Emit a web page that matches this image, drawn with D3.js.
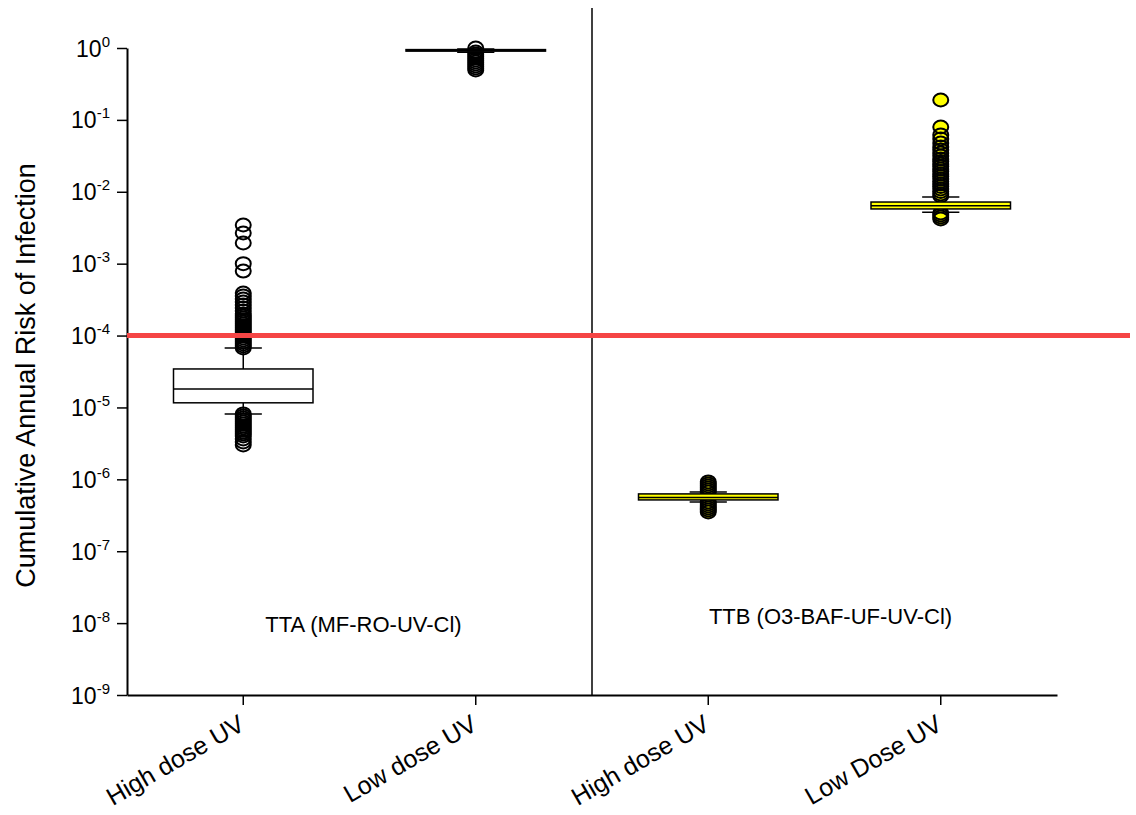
<!DOCTYPE html>
<html>
<head>
<meta charset="utf-8">
<script src="https://cdn.jsdelivr.net/npm/d3@7"></script>
<style>
  body { margin: 0; background: #fff; }
  svg { font-family: Arial, "Liberation Sans", sans-serif; }
</style>
</head>
<body>
<div id="chart"></div>
<script>
// Box plots of cumulative annual risk, log scale

const categories = ["High dose UV", "Low dose UV", "High dose UV ", "Low Dose UV"];
const groupLabels = ["TTA (MF-RO-UV-Cl)", "TTB (O3-BAF-UF-UV-Cl)"];
const yTicks = [1e0, 1e-1, 1e-2, 1e-3, 1e-4, 1e-5, 1e-6, 1e-7, 1e-8, 1e-9];
const threshold = 1e-4;

// [lower whisker, Q1, median, Q3, upper whisker]
const ttaHighStats = [8.1e-6, 1.16e-5, 1.81e-5, 3.43e-5, 6.7e-5];
const ttaLowStats = [0.87, 0.905, 0.925, 0.95, 0.97];
const ttbHighStats = [4.85e-7, 5.17e-7, 5.6e-7, 6.27e-7, 6.68e-7];
const ttbLowStats = [5.2e-3, 5.77e-3, 6.4e-3, 7.2e-3, 8.47e-3];

const ttaHighOutliers = [3.45e-3, 2.67e-3, 1.94e-3, 1.0e-3, 7.9e-4,
  3.91e-4, 3.555e-4, 3.228e-4, 2.933e-4, 2.665e-4, 2.42e-4, 2.198e-4, 1.997e-4,
  1.873e-4, 1.757e-4, 1.648e-4, 1.546e-4, 1.45e-4, 1.36e-4, 1.275e-4, 1.196e-4,
  1.122e-4, 1.052e-4, 9.87e-5, 9.26e-5, 8.68e-5, 8.15e-5, 7.64e-5, 7.17e-5, 6.72e-5,
  8.12e-6, 7.62e-6, 7.14e-6, 6.7e-6, 6.28e-6, 5.9e-6, 5.53e-6, 5.19e-6, 4.87e-6,
  4.56e-6, 4.28e-6, 4.01e-6, 3.65e-6, 3.31e-6, 3.01e-6];
const ttaLowOutliers = [1.0, 0.88, 0.825, 0.774, 0.726, 0.681, 0.639, 0.599, 0.562, 0.527, 0.494];
const ttbHighOutliers = [9.2e-7, 8.63e-7, 8.09e-7, 7.59e-7, 7.12e-7, 6.68e-7,
  4.85e-7, 4.55e-7, 4.27e-7, 4.0e-7, 3.75e-7, 3.52e-7];
const ttbLowOutliers = [0.189, 0.0796, 0.0617, 0.0543, 0.0477, 0.042, 0.0382, 0.0346,
  0.0315, 0.02858, 0.02638, 0.02435, 0.02247, 0.02075, 0.01915, 0.01768, 0.01632,
  0.01507, 0.01391, 0.01284, 0.01185, 0.01094, 0.0101, 0.00932, 0.00874,
  0.00507, 0.00476, 0.00446, 0.00418];

const boxes = [
  { cat: categories[0], stats: ttaHighStats, outliers: ttaHighOutliers, fill: "#ffffff", dotFill: "none" },
  { cat: categories[1], stats: ttaLowStats, outliers: ttaLowOutliers, fill: "#ffffff", dotFill: "none" },
  { cat: categories[2], stats: ttbHighStats, outliers: ttbHighOutliers, fill: "#ffff00", dotFill: "#ffff00" },
  { cat: categories[3], stats: ttbLowStats, outliers: ttbLowOutliers, fill: "#ffff00", dotFill: "#ffff00" }
];

const width = 1136;
const height = 815;
const margin = { top: 48, right: 79, bottom: 120, left: 127 };

const svg = d3.select("#chart")
  .append("svg")
  .attr("width", width)
  .attr("height", height);

const x = d3.scaleBand()
  .domain(categories)
  .range([margin.left, width - margin.right]);

const y = d3.scaleLog()
  .domain([1e-9, 1])
  .range([height - margin.bottom, margin.top]);

const y0 = y(1e-9);

// Axes
const xAxis = svg.append("g")
  .attr("transform", `translate(0,${y0})`)
  .call(d3.axisBottom(x).tickSize(10).tickSizeOuter(0).tickFormat(""));

xAxis.select(".domain").attr("stroke-width", 2);
xAxis.selectAll(".tick line").attr("stroke-width", 1.5);

xAxis.selectAll(".tick")
  .append("text")
  .attr("fill", "#000")
  .attr("text-anchor", "end")
  .attr("transform", "translate(3,34) rotate(-30)")
  .style("font-size", "25px")
  .text(d => d.trim());

const yAxis = svg.append("g")
  .attr("transform", `translate(${margin.left},0)`)
  .call(d3.axisLeft(y).tickValues(yTicks).tickSize(10).tickSizeOuter(0).tickFormat(""));

yAxis.select(".domain").attr("stroke-width", 2);
yAxis.selectAll(".tick line").attr("stroke-width", 1.5);

const yLabel = yAxis.selectAll(".tick")
  .append("text")
  .attr("fill", "#000")
  .attr("text-anchor", "end")
  .attr("x", -17)
  .attr("y", 8);

yLabel.append("tspan")
  .style("font-size", "23px")
  .text("10");
yLabel.append("tspan")
  .attr("dy", -10)
  .style("font-size", "15px")
  .text(d => String(Math.round(Math.log10(d))));

// Divider between the two treatment trains
const midX = x.range()[0] + (x.range()[1] - x.range()[0]) / 2;
svg.append("line")
  .attr("x1", midX)
  .attr("x2", midX)
  .attr("y1", 8)
  .attr("y2", y0)
  .attr("stroke", "#000")
  .attr("stroke-width", 1.5);

// Boxes
const bw = x.bandwidth() * 0.6;
const capW = x.bandwidth() * 0.16;

boxes.forEach(b => {
  const cx = x(b.cat) + x.bandwidth() / 2;
  const [lo, q1, med, q3, hi] = b.stats;
  const g = svg.append("g");

  g.append("line")
    .attr("x1", cx).attr("x2", cx)
    .attr("y1", y(hi)).attr("y2", y(q3))
    .attr("stroke", "#000").attr("stroke-width", 1.5);
  g.append("line")
    .attr("x1", cx).attr("x2", cx)
    .attr("y1", y(q1)).attr("y2", y(lo))
    .attr("stroke", "#000").attr("stroke-width", 1.5);

  [lo, hi].forEach(v => {
    g.append("line")
      .attr("x1", cx - capW / 2).attr("x2", cx + capW / 2)
      .attr("y1", y(v)).attr("y2", y(v))
      .attr("stroke", "#000").attr("stroke-width", 1.5);
  });

  // outlier fills first, then outlines on top so dense runs go dark
  g.selectAll("ellipse.fill")
    .data(b.outliers)
    .enter()
    .append("ellipse")
    .attr("class", "fill")
    .attr("cx", cx)
    .attr("cy", d => y(d))
    .attr("rx", 7.5)
    .attr("ry", 6.5)
    .attr("fill", b.dotFill)
    .attr("stroke", "none");

  g.selectAll("ellipse.outline")
    .data(b.outliers)
    .enter()
    .append("ellipse")
    .attr("class", "outline")
    .attr("cx", cx)
    .attr("cy", d => y(d))
    .attr("rx", 7.5)
    .attr("ry", 6.5)
    .attr("fill", "none")
    .attr("stroke", "#000")
    .attr("stroke-width", 2);

  g.append("rect")
    .attr("x", cx - bw / 2)
    .attr("width", bw)
    .attr("y", y(q3))
    .attr("height", y(q1) - y(q3))
    .attr("fill", b.fill)
    .attr("stroke", "#000")
    .attr("stroke-width", 1.5);

  g.append("line")
    .attr("x1", cx - bw / 2).attr("x2", cx + bw / 2)
    .attr("y1", y(med)).attr("y2", y(med))
    .attr("stroke", "#000").attr("stroke-width", 1.5);
});

// Threshold line
svg.append("line")
  .attr("x1", margin.left)
  .attr("x2", 1130)
  .attr("y1", y(threshold))
  .attr("y2", y(threshold))
  .attr("stroke", "#f54545")
  .attr("stroke-width", 5);

// Group labels
svg.append("text")
  .attr("x", (x(categories[0]) + x(categories[1])) / 2 + x.bandwidth() / 2 + 4)
  .attr("y", 632)
  .attr("text-anchor", "middle")
  .style("font-size", "22px")
  .text(groupLabels[0]);

svg.append("text")
  .attr("x", (x(categories[2]) + x(categories[3])) / 2 + x.bandwidth() / 2 + 6)
  .attr("y", 624)
  .attr("text-anchor", "middle")
  .style("font-size", "22px")
  .text(groupLabels[1]);

// Y axis title
svg.append("text")
  .attr("transform", `translate(35,${(margin.top + y0) / 2 + 4}) rotate(-90)`)
  .attr("text-anchor", "middle")
  .style("font-size", "27px")
  .text("Cumulative Annual Risk of Infection");
</script>
</body>
</html>
